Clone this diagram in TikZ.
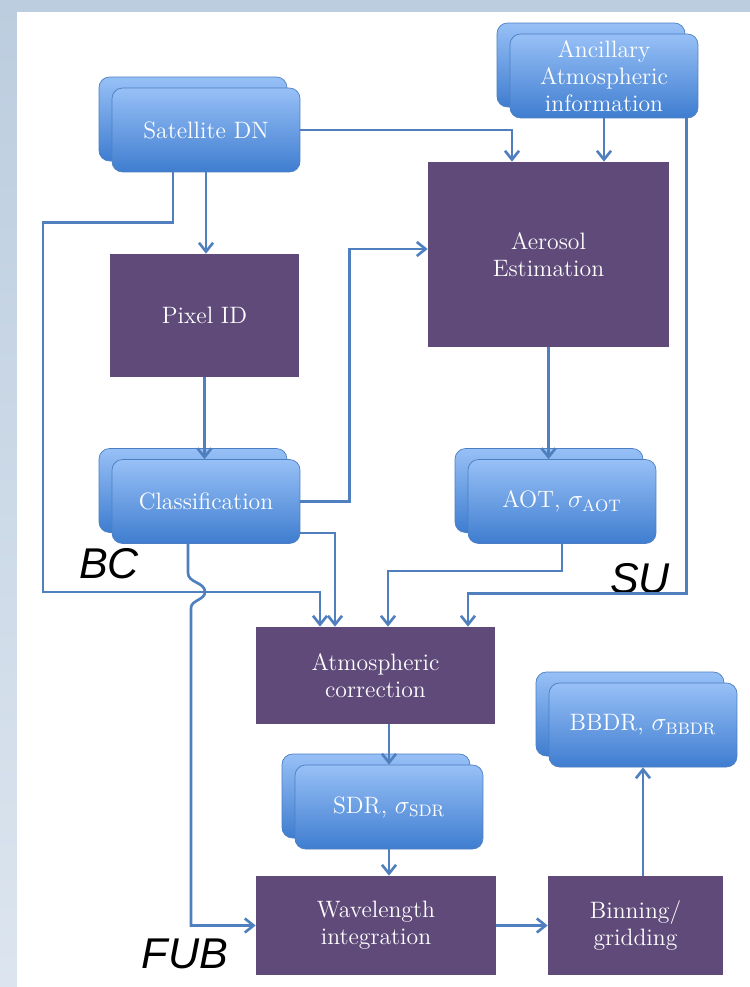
\documentclass[tikz,border=0pt]{standalone}
\usepackage{fontspec}
\newfontfamily\tagfont{Liberation Sans}
\usepackage{tikz}
\usetikzlibrary{arrows.meta, positioning}
\definecolor{boxtop}{HTML}{97C0F6}
\definecolor{boxbot}{HTML}{3F7DD0}
\definecolor{boxline}{HTML}{4C7FC2}
\definecolor{procfill}{HTML}{5F4A7A}
\definecolor{linkblue}{HTML}{4F7FBE}
\definecolor{frametop}{HTML}{BCCDDF}
\definecolor{framebot}{HTML}{DCE5EF}
\newcommand\bw{3.76cm}
\newcommand\bh{1.68cm}

\begin{document}
\begin{tikzpicture}[x=0.02cm, y=-0.02cm,
    inbox/.style={rectangle, rounded corners=6pt, top color=boxtop, bottom color=boxbot,
        draw=boxline, line width=0.4pt, minimum width=\bw, minimum height=\bh,
        text=white, align=center, font=\fontsize{13.5}{15.5}\selectfont},
    proc/.style={rectangle, fill=procfill, text=white, align=center,
        font=\fontsize{13.5}{15.5}\selectfont},
    link/.style={draw=linkblue, line width=1.5pt, -{Straight Barb[length=5pt, width=8pt]}},
    tag/.style={font=\tagfont\itshape\fontsize{24.5}{29}\selectfont, inner sep=0pt, anchor=base}]

    % frame
    \useasboundingbox (0, 0) rectangle (750, 987);
    \fill[top color=frametop, bottom color=framebot] (0, 0) rectangle (750, 987);
    \fill[white] (17, 12) rectangle (750, 987);

    % inputs
    \node at (193, 119) [inbox] (satb) {};
    \node at (206, 130) [inbox] (sat) {Satellite DN};
    \node at (591, 65) [inbox] (ancb) {};
    \node at (604, 76) [inbox] (anc) {Ancillary\\Atmospheric\\information};

    % processing
    \node at (548.5, 254.5) [proc, minimum width=4.82cm, minimum height=3.7cm] (aer) {Aerosol\\Estimation};
    \node at (204.5, 315.5) [proc, minimum width=3.78cm, minimum height=2.46cm] (pix) {Pixel ID};
    \node at (193, 490.5) [inbox] (clsb) {};
    \node at (206, 501.5) [inbox] (cls) {Classification};
    \node at (549, 490.5) [inbox] (aotb) {};
    \node at (562, 501.5) [inbox] (aot) {AOT, $\sigma_{\mathrm{AOT}}$};
    \node at (375.5, 675.5) [proc, minimum width=4.78cm, minimum height=1.94cm] (atm) {Atmospheric\\correction};
    \node at (376, 796) [inbox] (sdrb) {};
    \node at (389, 807) [inbox] (sdr) {SDR, $\sigma_{\mathrm{SDR}}$};
    \node at (376, 925.5) [proc, minimum width=4.8cm, minimum height=1.98cm] (wav) {Wavelength\\integration};
    \node at (635.5, 925.5) [proc, minimum width=3.5cm, minimum height=1.98cm] (bin) {Binning/\\gridding};
    \node at (630, 714) [inbox] (bbdrb) {};
    \node at (643, 725) [inbox] (bbdr) {BBDR, $\sigma_{\mathrm{BBDR}}$};

    % groups
    \node at (109, 578) [tag] (bc) {BC};
    \node at (640, 593) [tag] (su) {SU};
    \node at (185, 968) [tag] (fub) {FUB};

    % connections
    \draw[link] (sat.east) -| ([xshift=-0.73cm]aer.north);
    \draw[link] (anc.south) -- (anc.south |- aer.north);
    \draw[link] (sat.south) -- (sat.south |- pix.north);
    \draw[link] (pix.south) -- (pix.south |- cls.north);
    \draw[link] ([xshift=-0.66cm]sat.south) -- ++(0, 50) -| (43, 592) -| ([xshift=-1.11cm]atm.north);
    \draw[link] ([yshift=-0.63cm]cls.east) -| ([xshift=-0.81cm]atm.north);
    \draw[link] (cls.east) -- ++(49, 0) |- ([yshift=0.11cm]aer.west);
    \draw[link] (aer.south) -- (aer.south |- aot.north);
    \draw[link] (aot.south) -- ++(0, 27) -| ([xshift=0.25cm]atm.north);
    \draw[link] ([xshift=-0.24cm]anc.south east) -- ++(0, 475) -| ([xshift=1.85cm]atm.north);
    \draw[link] ([xshift=-0.36cm]cls.south) -- (188, 573)
        .. controls (188, 583) and (205, 582) .. (205, 592)
        .. controls (205, 600) and (191, 600) .. (191, 608) |- (wav.west);
    \draw[link] (sdr.north |- atm.south) -- (sdr.north);
    \draw[link] (sdr.south) -- (sdr.south |- wav.north);
    \draw[link] (wav.east) -- (bin.west);
    \draw[link] (bbdr.south |- bin.north) -- (bbdr.south);
\end{tikzpicture}
\end{document}
